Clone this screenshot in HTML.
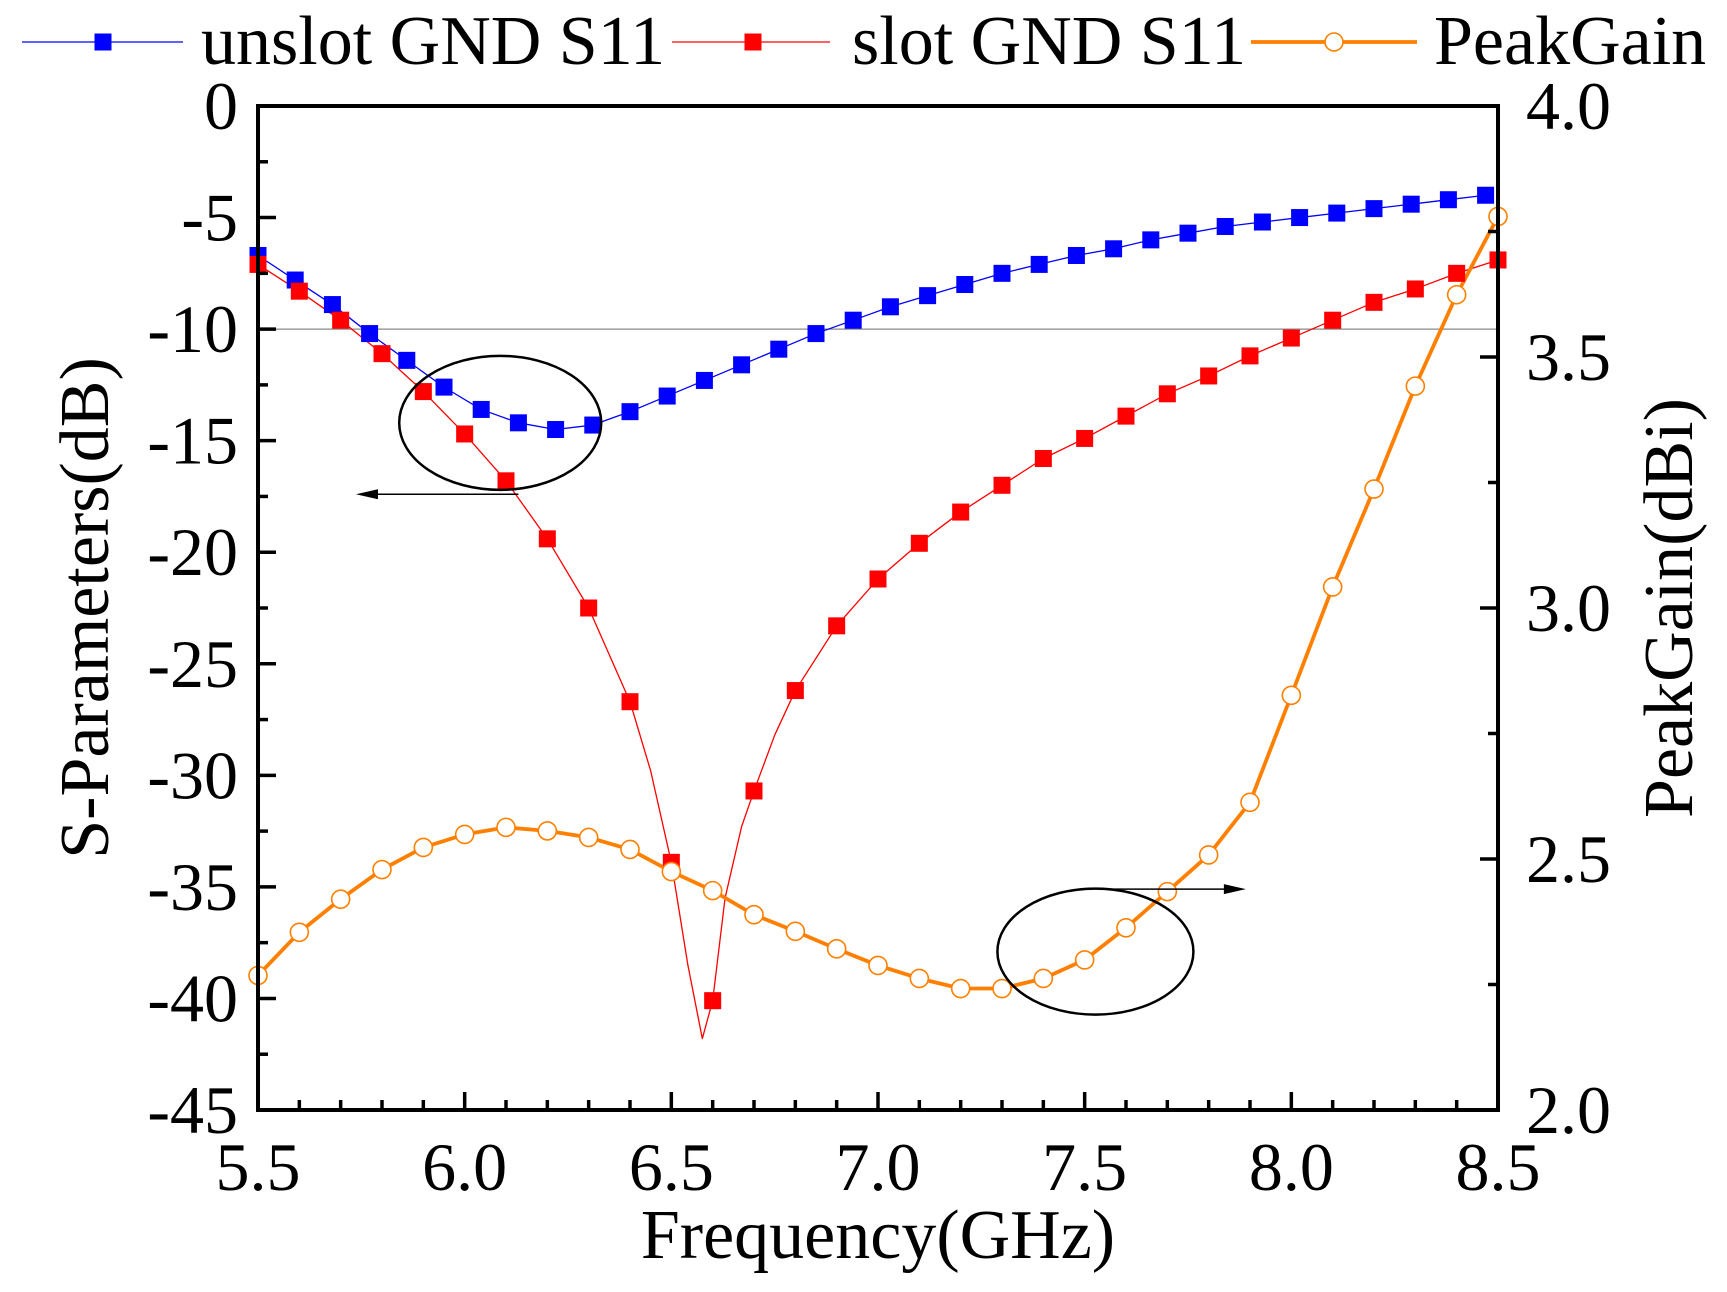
<!DOCTYPE html>
<html><head><meta charset="utf-8"><style>
html,body{margin:0;padding:0;background:#fff;}
svg{display:block;}
text{font-family:"Liberation Serif","Times New Roman",serif;}
</style></head><body>
<svg id="chart" width="1727" height="1292" viewBox="0 0 1727 1292" xmlns="http://www.w3.org/2000/svg" font-family="Liberation Serif, serif"></svg>
<script>
const unslotFreq=[5.5,5.59,5.68,5.77,5.86,5.95,6.04,6.13,6.22,6.31,6.4,6.49,6.58,6.67,6.76,6.85,6.94,7.03,7.12,7.21,7.3,7.39,7.48,7.57,7.66,7.75,7.84,7.93,8.02,8.11,8.2,8.29,8.38,8.47];
const unslotS11=[-6.7,-7.8,-8.9,-10.2,-11.4,-12.6,-13.6,-14.2,-14.5,-14.3,-13.7,-13.0,-12.3,-11.6,-10.9,-10.2,-9.6,-9.0,-8.5,-8.0,-7.5,-7.1,-6.7,-6.4,-6.0,-5.7,-5.4,-5.2,-5.0,-4.8,-4.6,-4.4,-4.2,-4.0];
const freq=[5.5,5.6,5.7,5.8,5.9,6.0,6.1,6.2,6.3,6.4,6.5,6.6,6.7,6.8,6.9,7.0,7.1,7.2,7.3,7.4,7.5,7.6,7.7,7.8,7.9,8.0,8.1,8.2,8.3,8.4,8.5];
const slotS11=[-7.1,-8.3,-9.6,-11.1,-12.8,-14.7,-16.8,-19.4,-22.5,-26.7,-33.9,-40.1,-30.7,-26.2,-23.3,-21.2,-19.6,-18.2,-17.0,-15.8,-14.9,-13.9,-12.9,-12.1,-11.2,-10.4,-9.6,-8.8,-8.2,-7.5,-6.9];
const slotLineFreq=[5.5,5.6,5.7,5.8,5.9,6.0,6.1,6.2,6.3,6.4,6.45,6.5,6.54,6.575,6.6,6.63,6.67,6.7,6.75,6.8,6.9,7.0,7.1,7.2,7.3,7.4,7.5,7.6,7.7,7.8,7.9,8.0,8.1,8.2,8.3,8.4,8.5];
const slotLineS11=[-7.1,-8.3,-9.6,-11.1,-12.8,-14.7,-16.8,-19.4,-22.5,-26.7,-29.8,-33.9,-38.5,-41.8,-40.1,-35.5,-32.3,-30.7,-28.2,-26.2,-23.3,-21.2,-19.6,-18.2,-17.0,-15.8,-14.9,-13.9,-12.9,-12.1,-11.2,-10.4,-9.6,-8.8,-8.2,-7.5,-6.9];
const peakGain=[2.268,2.354,2.420,2.479,2.523,2.549,2.563,2.556,2.543,2.519,2.475,2.437,2.389,2.356,2.321,2.288,2.262,2.242,2.242,2.262,2.299,2.363,2.435,2.508,2.613,2.826,3.042,3.237,3.442,3.624,3.780];
const xTicks=[5.5,6.0,6.5,7.0,7.5,8.0,8.5];
const xTickLabels=["5.5","6.0","6.5","7.0","7.5","8.0","8.5"];
const yTicks=[0,-5,-10,-15,-20,-25,-30,-35,-40,-45];
const yTickLabels=["0","-5","-10","-15","-20","-25","-30","-35","-40","-45"];
const y2Ticks=[2.0,2.5,3.0,3.5,4.0];
const y2TickLabels=["2.0","2.5","3.0","3.5","4.0"];

const L=258,R=1498,T=106,B=1110;
const X=v=>L+(v-5.5)/3*(R-L);
const Y=v=>T+(0-v)/45*(B-T);
const Y2=v=>B-(v-2)/2*(B-T);
const svg=document.getElementById('chart');
const NS='http://www.w3.org/2000/svg';
const FF='Liberation Serif, Times New Roman, serif';
function mk(tag,attrs,parent){const e=document.createElementNS(NS,tag);for(const k in attrs)e.setAttribute(k,attrs[k]);if(tag==='text')e.setAttribute('font-family',FF);(parent||svg).appendChild(e);return e;}

let ref=mk('line',{x1:L,x2:R,y1:Y(-10),y2:Y(-10),stroke:'#888','stroke-width':1.2});



function poly(xs,ys,fx,fy,color,w,name){
  const p=mk('polyline',{points:xs.map((x,i)=>fx(x)+','+fy(ys[i])).join(' '),fill:'none',stroke:color,'stroke-width':w,'stroke-linejoin':'round'});
  
  
}
poly(unslotFreq,unslotS11,X,Y,'#0000ff',1.3,'unslot-s11-line');
poly(slotLineFreq,slotLineS11,X,Y,'#ff0000',1.3,'slot-s11-line');
poly(freq,peakGain,X,Y2,'#ff8000',3.8,'peak-gain-line');
unslotFreq.forEach((f,i)=>{
  const r=mk('rect',{x:X(f)-8.5,y:Y(unslotS11[i])-8.5,width:17,height:17,fill:'#0000ff'});
  
  
});
freq.forEach((f,i)=>{
  const r=mk('rect',{x:X(f)-8.5,y:Y(slotS11[i])-8.5,width:17,height:17,fill:'#ff0000'});
  
  
});
freq.forEach((f,i)=>{
  const c=mk('circle',{cx:X(f),cy:Y2(peakGain[i]),r:9,fill:'#fff',stroke:'#ff8000','stroke-width':1.6});
  
  
});

let e1=mk('ellipse',{cx:X(6.086),cy:Y(-14.2),rx:101,ry:67,fill:'none',stroke:'#000','stroke-width':2.5});


let a1=mk('line',{x1:X(6.13),y1:Y(-17.4),x2:X(5.737)+18,y2:Y(-17.4),stroke:'#000','stroke-width':1.5});


let h1=mk('polygon',{points:`${X(5.737)},${Y(-17.4)} ${X(5.737)+22},${Y(-17.4)-5} ${X(5.737)+22},${Y(-17.4)+5}`,fill:'#000'});


let e2=mk('ellipse',{cx:X(7.526),cy:Y(-37.9),rx:98,ry:63,fill:'none',stroke:'#000','stroke-width':2.5});


let a2=mk('line',{x1:X(7.54),y1:Y(-35.1),x2:X(7.89)-18,y2:Y(-35.1),stroke:'#000','stroke-width':1.5});


let h2=mk('polygon',{points:`${X(7.89)},${Y(-35.1)} ${X(7.89)-22},${Y(-35.1)-5} ${X(7.89)-22},${Y(-35.1)+5}`,fill:'#000'});



let fr=mk('rect',{x:L,y:T,width:R-L,height:B-T,fill:'none',stroke:'#000','stroke-width':4});



for(let i=0;i<=30;i++){const v=5.5+i*0.1;const major=i%5===0;
  const t=mk('line',{x1:X(v),x2:X(v),y1:B,y2:B-(major?18:10),stroke:'#000','stroke-width':3.5});
  
  }
for(let i=0;i<=18;i++){const v=-i*2.5;const major=i%2===0;
  const t=mk('line',{x1:L,x2:L+(major?18:10),y1:Y(v),y2:Y(v),stroke:'#000','stroke-width':3.5});
  
  }
for(let i=0;i<=8;i++){const v=2+i*0.25;const major=i%2===0;
  const t=mk('line',{x1:R,x2:R-(major?18:10),y1:Y2(v),y2:Y2(v),stroke:'#000','stroke-width':3.5});
  
  }

xTicks.forEach((v,i)=>{const t=mk('text',{x:X(v),y:1190,'font-size':68,'text-anchor':'middle'});t.textContent=xTickLabels[i];
  
  });
yTicks.forEach((v,i)=>{const t=mk('text',{x:238,y:Y(v)+23,'font-size':68,'text-anchor':'end'});t.textContent=yTickLabels[i];
  
  });
y2Ticks.forEach((v,i)=>{const t=mk('text',{x:1526,y:Y2(v)+23,'font-size':68,'text-anchor':'start'});t.textContent=y2TickLabels[i];
  
  });

let xt=mk('text',{x:(L+R)/2,y:1258,'font-size':70,'text-anchor':'middle'});xt.textContent='Frequency(GHz)';


let yt=mk('text',{x:0,y:0,'font-size':70,'text-anchor':'middle',transform:`translate(108,${(T+B)/2}) rotate(-90)`});yt.textContent='S-Parameters(dB)';


let y2t=mk('text',{x:0,y:0,'font-size':70,'text-anchor':'middle',transform:`translate(1692,${(T+B)/2}) rotate(-90)`});y2t.textContent='PeakGain(dBi)';



function leg(x1,x2,mx,tx,color,kind,label,w,name){
  const g=mk('g',{});
  
  
  mk('line',{x1:x1,x2:x2,y1:42,y2:42,stroke:color,'stroke-width':w},g);
  if(kind==='sq')mk('rect',{x:mx-8.5,y:33.5,width:17,height:17,fill:color},g);
  else mk('circle',{cx:mx,cy:42,r:9,fill:'#fff',stroke:color,'stroke-width':1.6},g);
  const t=mk('text',{x:tx,y:64,'font-size':70},g);t.textContent=label;
}
leg(22,183,103,201,'#0000ff','sq','unslot GND S11',1.3,'legend-entry-unslot');
leg(672,830,753,852,'#ff0000','sq','slot GND S11',1.3,'legend-entry-slot');
leg(1251,1417,1334,1434,'#ff8000','ci','PeakGain',3.8,'legend-entry-peakgain');
</script>
</body></html>
